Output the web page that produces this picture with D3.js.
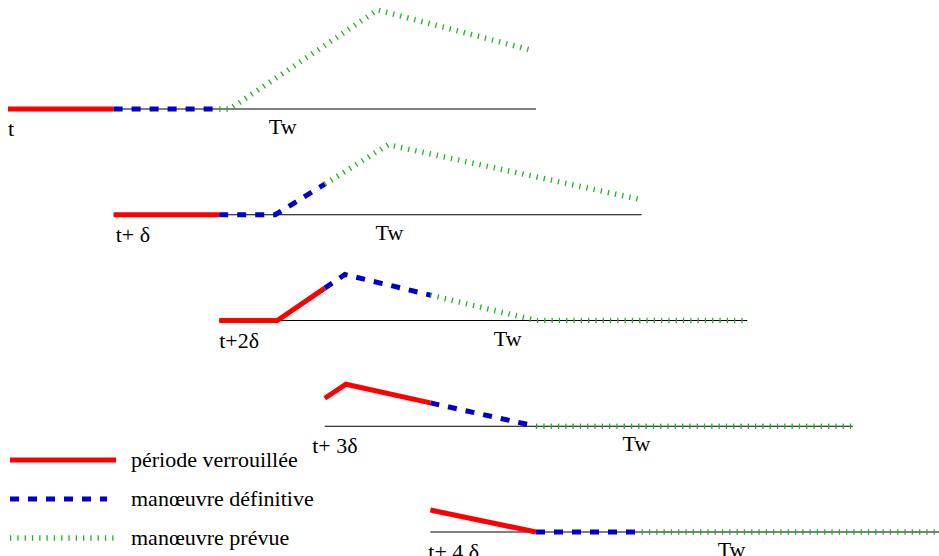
<!DOCTYPE html>
<html>
<head>
<meta charset="utf-8">
<script src="https://cdn.jsdelivr.net/npm/d3@7"></script>
<style>
  body { margin: 0; background: #fff; }
  svg { display: block; }
  text { font-family: "Liberation Serif", "DejaVu Serif", serif; font-size: 22px; fill: #000; white-space: pre; }
</style>
</head>
<body>
<div id="chart"></div>
<script>
// one time unit = one step δ, the window Tw covers 5 steps
const rows = [0, 1, 2, 3, 4];
const rowLabels = ["t", "t+ δ", "t+2δ", "t+ 3δ", "t+ 4 δ"];
const rowLabelAt = [0, 0.02, 0, -0.12, -0.02];   // in steps, from row start
const twLabelAt = [2.47, 2.48, 2.6, 2.82, 2.72]; // in steps, from row start

// planned trajectory for each row: [time, value]
const trajectories = [
  [[0, 0], [2.1, 0], [3.5, 99], [4.95, 59]],
  [[1, 0], [2.53, 0], [3.6, 70], [6, 15]],
  [[2, 0], [2.55, 0], [3.19, 46], [5, 0], [7, 0]],
  [[3, 28], [3.2, 42], [5, 0], [8, 0]],
  [[4, 22], [5, 0], [9, 0]]
];

// phases, relative to row start (in steps)
const phases = [
  { key: "planned", label: "manœuvre prévue", from: 2, to: 5 },
  { key: "final", label: "manœuvre définitive", from: 1, to: 2 },
  { key: "locked", label: "période verrouillée", from: 0, to: 1 }
];
const legendOrder = ["locked", "final", "planned"];

const width = 939, height = 556;
const windowSteps = 5;

const style = {
  locked:  { stroke: "#ff0000", width: 5, dash: null },
  final:   { stroke: "#0000cc", width: 5, dash: "9 9" },
  planned: { stroke: "#1fb51f", width: 5.5, dash: "1.3 6" }
};

const svg = d3.select("#chart").append("svg")
  .attr("width", width)
  .attr("height", height);

const x = d3.scaleLinear().domain([0, windowSteps]).range([8, 536]);
const rowY = d3.scaleLinear().domain([0, 4]).range([109, 532]);
const v = d3.scaleLinear().domain([0, 100]).range([0, -100]);

const line = d3.line().x(d => x(d[0])).y(d => v(d[1]));

// part of a polyline between times a and b
function cut(points, a, b) {
  const out = [];
  for (let i = 0; i < points.length - 1; i++) {
    const [t0, v0] = points[i], [t1, v1] = points[i + 1];
    const s = Math.max(a, t0), e = Math.min(b, t1);
    if (s >= e) continue;
    const f = t => v0 + (v1 - v0) * (t - t0) / (t1 - t0);
    if (!out.length) out.push([s, f(s)]);
    out.push([e, f(e)]);
  }
  return out;
}

const rowG = svg.selectAll(".row")
  .data(rows)
  .enter()
  .append("g")
  .attr("class", "row")
  .attr("transform", d => `translate(0,${rowY(d)})`);

// time axis of the window
rowG.append("line")
  .attr("x1", d => x(d))
  .attr("x2", d => x(d + windowSteps))
  .attr("y1", 0).attr("y2", 0)
  .attr("stroke", "#000")
  .attr("stroke-width", 1);

rowG.each(function(k) {
  const g = d3.select(this);
  phases.forEach(p => {
    const seg = cut(trajectories[k], k + p.from, k + p.to);
    if (seg.length < 2) return;
    const s = style[p.key];
    g.append("path")
      .attr("d", line(seg))
      .attr("fill", "none")
      .attr("stroke", s.stroke)
      .attr("stroke-width", s.width)
      .attr("stroke-dasharray", s.dash);
  });
});

rowG.append("text")
  .attr("x", d => x(d + rowLabelAt[d]))
  .attr("y", 27)
  .text(d => rowLabels[d]);

rowG.append("text")
  .attr("x", d => x(d + twLabelAt[d]))
  .attr("y", 25)
  .text("Tw");

// legend
const legend = svg.append("g").attr("transform", "translate(10,460)");
const legendItems = legendOrder.map(k => phases.find(p => p.key === k));

const item = legend.selectAll(".item")
  .data(legendItems)
  .enter()
  .append("g")
  .attr("transform", (d, i) => `translate(0,${i * 39})`);

item.append("line")
  .attr("x1", 0)
  .attr("x2", d => d.key === "final" ? 97 : (d.key === "planned" ? 107 : 106))
  .attr("y1", 0).attr("y2", 0)
  .attr("stroke", d => style[d.key].stroke)
  .attr("stroke-width", d => style[d.key].width)
  .attr("stroke-dasharray", d => style[d.key].dash);

item.append("text")
  .attr("x", 121)
  .attr("y", 7)
  .text(d => d.label);
</script>
</body>
</html>
